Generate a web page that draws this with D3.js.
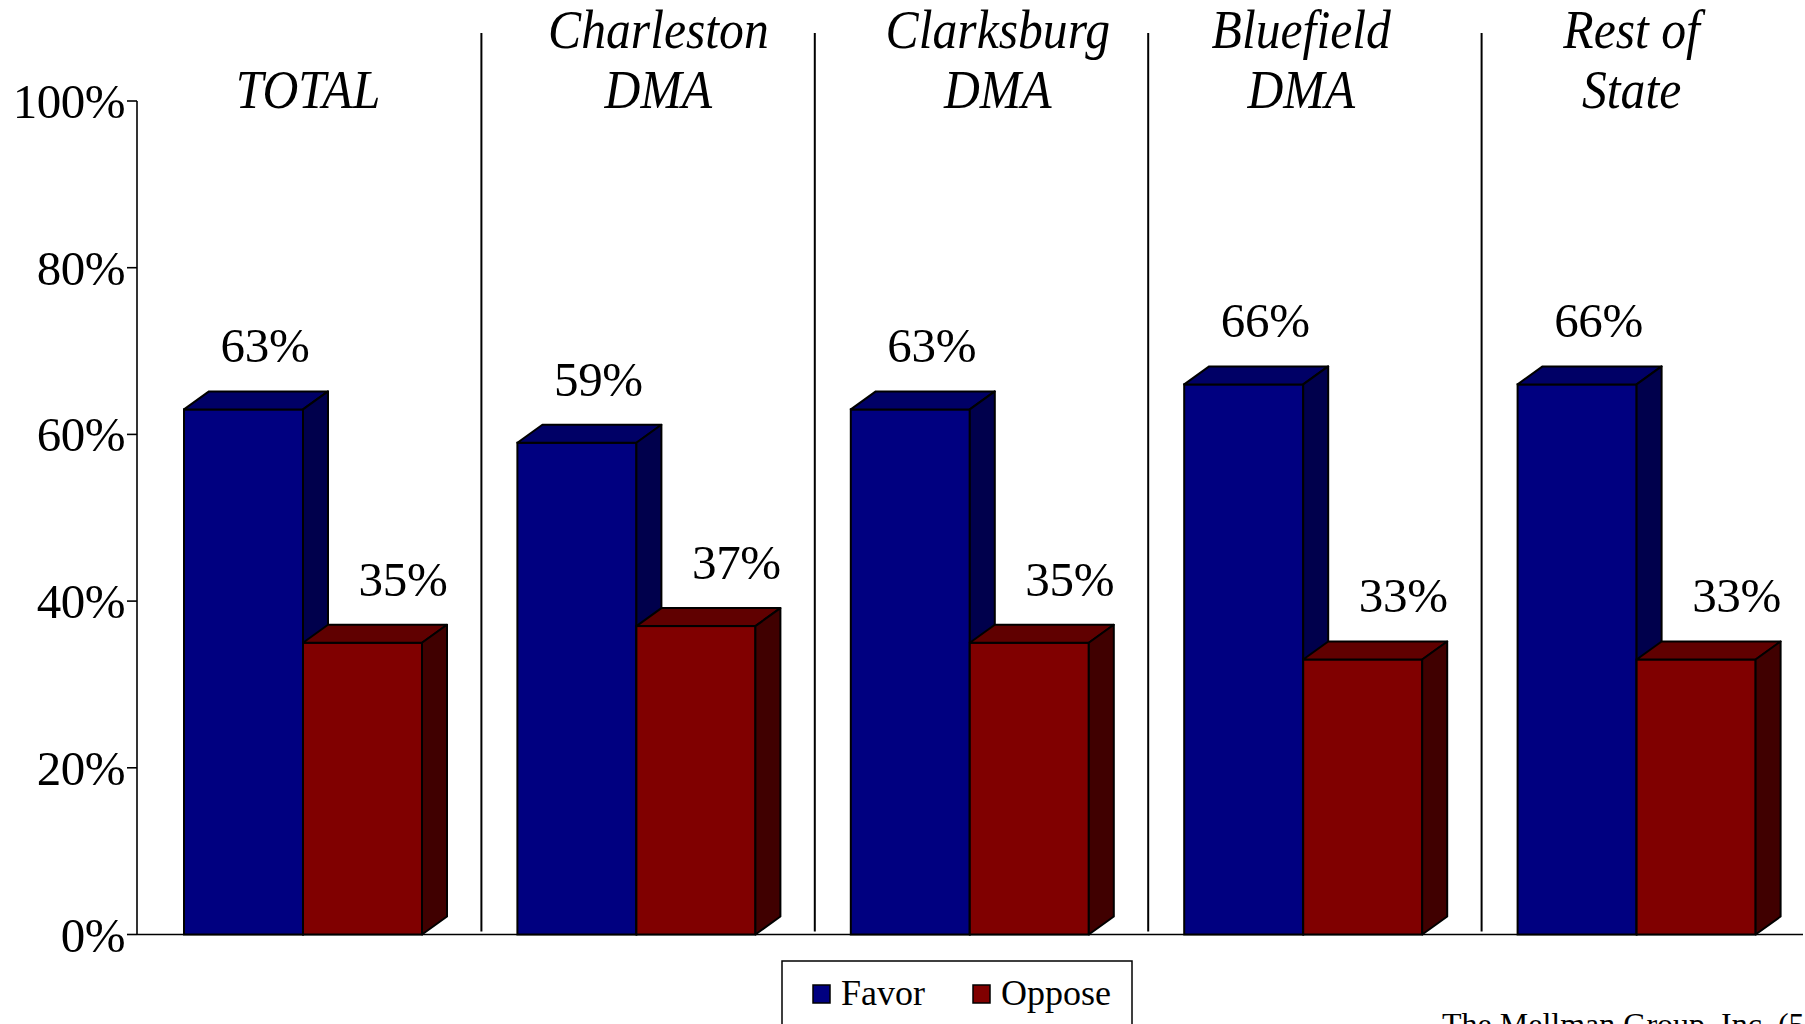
<!DOCTYPE html>
<html>
<head>
<meta charset="utf-8">
<script src="https://cdn.jsdelivr.net/npm/d3@7"></script>
<style>
  html, body { margin: 0; padding: 0; background: #fff; overflow: hidden; }
  svg { display: block; font-family: "Liberation Serif", "Times New Roman", serif; }
</style>
</head>
<body>
<svg id="chart" width="1805" height="1024"></svg>
<script>
/* favor / oppose by region — 3D clustered columns */

const CATEGORIES = ['TOTAL', 'Charleston DMA', 'Clarksburg DMA', 'Bluefield DMA', 'Rest of State'];
const CATEGORY_LINES = [['TOTAL'], ['Charleston', 'DMA'], ['Clarksburg', 'DMA'], ['Bluefield', 'DMA'], ['Rest of', 'State']];
const SERIES = ['Favor', 'Oppose'];
const FAVOR = [63, 59, 63, 66, 66];
const OPPOSE = [35, 37, 35, 33, 33];
const Y_TICKS = [0, 20, 40, 60, 80, 100];
const SOURCE = 'The Mellman Group, Inc. (5';

const W = 1805, H = 1024;
const M = { left: 137, right: 1, top: 101, bottom: 89 };
const DX = 25, DY = 18;           /* 3D depth offset */
const BAR_W = 119;
const FILLS = {
  Favor:  { front: '#000080', top: '#000066', side: '#00004c' },
  Oppose: { front: '#800000', top: '#600000', side: '#400000' }
};
/* hand-placed category titles in the original drift a little from group centres */
const LABEL_NUDGE = [-7, 10, 16, -14, -17];

const svg = d3.select('#chart');

const x = d3.scaleBand().domain(CATEGORIES).range([M.left, W - M.right]).padding(0);
const xs = d3.scaleBand().domain(SERIES).range([47, 47 + 2 * BAR_W]).padding(0);
const y = d3.scaleLinear().domain([0, 100]).range([H - M.bottom - 0.5, M.top]);

const rows = CATEGORIES.map((c, i) => ({ cat: c, i, Favor: FAVOR[i], Oppose: OPPOSE[i] }));

/* group separators */
svg.append('g').selectAll('line').data(CATEGORIES.slice(1)).join('line')
  .attr('x1', (d) => x(d) + 11).attr('x2', (d) => x(d) + 11)
  .attr('y1', 33).attr('y2', y(0) - 3)
  .attr('stroke', '#000').attr('stroke-width', 2);

/* y axis */
const yAxis = svg.append('g');
yAxis.append('line')
  .attr('x1', M.left).attr('x2', M.left)
  .attr('y1', y(100)).attr('y2', y(0))
  .attr('stroke', '#000').attr('stroke-width', 1.6);
yAxis.selectAll('line.tick').data(Y_TICKS).join('line')
  .attr('class', 'tick')
  .attr('x1', M.left - 10).attr('x2', M.left)
  .attr('y1', (d) => y(d)).attr('y2', (d) => y(d))
  .attr('stroke', '#000').attr('stroke-width', 1.6);
yAxis.selectAll('text').data(Y_TICKS).join('text')
  .attr('x', M.left - 12)
  .attr('y', (d) => y(d) + 17)
  .attr('text-anchor', 'end')
  .attr('font-size', 49)
  .attr('letter-spacing', -0.5)
  .text((d) => d + '%');

/* baseline */
svg.append('line')
  .attr('x1', M.left).attr('x2', W - 2)
  .attr('y1', y(0)).attr('y2', y(0))
  .attr('stroke', '#000').attr('stroke-width', 1.6);

/* bars */
const bars = [];
rows.forEach((r) => SERIES.forEach((s) => bars.push({ cat: r.cat, s, v: r[s] })));

const g = svg.append('g').selectAll('g').data(bars).join('g');
g.each(function (d) {
  const el = d3.select(this);
  const x0 = x(d.cat) + xs(d.s), x1 = x0 + xs.bandwidth();
  const yt = y(d.v), yb = y(0);
  const f = FILLS[d.s];
  el.append('rect')
    .attr('x', x0).attr('y', yt).attr('width', x1 - x0).attr('height', yb - yt)
    .attr('fill', f.front).attr('stroke', '#000').attr('stroke-width', 2);
  el.append('path')
    .attr('d', `M${x0},${yt}L${x0 + DX},${yt - DY}L${x1 + DX},${yt - DY}L${x1},${yt}Z`)
    .attr('fill', f.top).attr('stroke', '#000').attr('stroke-width', 2).attr('stroke-linejoin', 'round');
  el.append('path')
    .attr('d', `M${x1},${yt}L${x1 + DX},${yt - DY}L${x1 + DX},${yb - DY}L${x1},${yb}Z`)
    .attr('fill', f.side).attr('stroke', '#000').attr('stroke-width', 2).attr('stroke-linejoin', 'round');
});

/* value labels */
svg.append('g').selectAll('text').data(bars).join('text')
  .attr('x', (d) => x(d.cat) + xs(d.s) + (d.s === 'Favor' ? 81 : 100))
  .attr('y', (d) => y(d.v) - DY - 29)
  .attr('text-anchor', 'middle')
  .attr('font-size', 49)
  .attr('letter-spacing', -0.3)
  .text((d) => d.v + '%');

/* category titles */
const titles = svg.append('g').selectAll('g').data(rows).join('g');
titles.each(function (d) {
  const lines = CATEGORY_LINES[d.i];
  const cx = x(d.cat) + xs('Favor') + BAR_W + 12 + LABEL_NUDGE[d.i];
  lines.forEach((t, k) => {
    const by = lines.length === 1 ? 108 : 48 + k * 60;
    d3.select(this).append('text')
      .attr('transform', `translate(${cx},${by}) scale(0.92,1)`)
      .attr('text-anchor', 'middle')
      .attr('font-size', 54)
      .attr('font-style', 'italic')
      .text(t);
  });
});

/* legend */
const lg = svg.append('g');
lg.append('rect')
  .attr('x', 782).attr('y', 961).attr('width', 350).attr('height', 120)
  .attr('fill', '#fff').attr('stroke', '#000').attr('stroke-width', 1.5);
const LEG_X = [813, 973];
SERIES.forEach((s, i) => {
  lg.append('rect')
    .attr('x', LEG_X[i]).attr('y', 985).attr('width', 17).attr('height', 18)
    .attr('fill', FILLS[s].front).attr('stroke', '#000').attr('stroke-width', 1.5);
  lg.append('text')
    .attr('x', LEG_X[i] + 28).attr('y', 1005)
    .attr('font-size', 36)
    .text(s);
});

/* source line, cut off by the frame as in the original */
svg.append('text')
  .attr('x', 1442).attr('y', 1035)
  .attr('font-size', 32)
  .text(SOURCE);
</script>
</body>
</html>
